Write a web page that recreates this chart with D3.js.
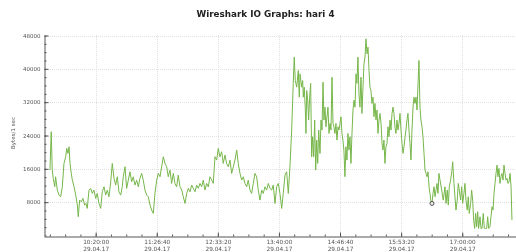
<!DOCTYPE html>
<html>
<head>
<meta charset="utf-8">
<script src="https://cdn.jsdelivr.net/npm/d3@7"></script>
<style>
  body { margin: 0; background: #fff; }
  svg { display: block; filter: blur(0.3px); }
</style>
</head>
<body>
<svg id="chart" width="516" height="252"></svg>
<script>
const title = "Wireshark IO Graphs: hari 4";
const yLabel = "Bytes/1 sec";
const dateLabel = "29.04.17";
const captureStart = "2017-04-29 09:00:00";
const viewMinutes = [23.6, 538.7];
const xTickLabels = ["10:20:00", "11:26:40", "12:33:20", "13:40:00", "14:46:40", "15:53:20", "17:00:00"];
const yTickValues = [8000, 16000, 24000, 32000, 40000, 48000];

// minutes after captureStart
const minutes = [
  30.1, 31.5, 32.6, 33.7, 35.3, 36.3, 38.1, 40.0, 41.8, 43.6,
  45.4, 47.3, 48.4, 49.8, 50.9, 52.0, 53.4, 54.5, 56.4, 58.2,
  60.0, 61.0, 62.5, 64.3, 66.1, 68.0, 69.4, 70.8, 72.7, 74.5,
  76.3, 78.1, 80.0, 81.7, 83.6, 85.5, 87.2, 89.1, 90.9, 92.7,
  94.5, 96.4, 98.1, 100.0, 101.8, 103.6, 105.4, 107.3, 109.0,
  110.1, 112.0, 113.8, 115.6, 117.4, 119.3, 121.0, 122.9, 124.7, 126.5,
  128.3, 130.2, 131.9, 133.8, 135.7, 137.4, 139.3, 141.1, 142.9, 144.7,
  146.6, 148.3, 150.2, 152.0, 153.8, 155.6, 157.5, 159.2, 161.1, 162.9,
  164.7, 166.5, 168.4, 170.1, 172.0, 173.9, 175.6, 177.5, 179.3, 181.1,
  182.9, 184.8, 186.5, 188.4, 190.2, 192.0, 193.8, 195.7, 197.4, 199.3,
  201.1, 202.9, 204.7, 206.6, 208.3, 210.2, 212.0, 213.8, 215.6, 217.5,
  219.2, 221.1, 222.9, 224.7, 226.6, 228.4, 230.2, 232.0, 233.9, 235.6,
  237.5, 239.3, 241.1, 242.9, 244.8, 246.5, 248.4, 250.2, 252.0, 253.8,
  255.7, 257.4, 259.3, 261.2, 262.9, 264.8, 266.6, 268.4, 270.2,
  272.1, 273.8, 275.7, 277.5, 279.3, 281.1, 283.0, 284.7, 286.6, 288.4,
  290.2, 292.0, 293.9, 295.6, 296.7, 297.8, 299.4, 301.1, 302.2, 303.0,
  304.8, 305.9, 306.6, 307.6, 308.7, 309.5, 310.3, 311.4, 312.4, 313.5,
  314.6, 315.7, 316.8, 317.9, 319.0, 320.1, 321.2, 322.3, 323.4, 324.8,
  325.9, 327.0, 328.1, 329.1, 330.2,
  331.3, 332.4, 333.5, 334.6, 335.7, 336.8, 337.9, 339.0, 340.0, 341.1,
  342.2, 343.3, 344.4, 345.5, 346.6, 347.7, 348.8, 349.8, 350.9, 352.0,
  353.1, 354.2, 355.3, 356.4, 357.5, 358.6, 359.7, 360.8, 361.9, 363.0,
  364.1, 365.1, 366.2, 367.3, 368.4, 369.5, 370.6, 371.7, 372.8, 373.9,
  375.0, 376.1, 377.2, 378.3, 379.3, 380.4, 381.5, 382.6, 383.7, 384.8,
  385.9, 387.0, 388.1, 389.2, 390.3, 391.4, 392.5, 393.5, 394.6, 395.7,
  396.8, 397.9, 399.0, 400.1, 401.2, 402.3, 403.4, 404.5, 405.5, 406.6,
  407.7, 408.8, 409.9, 411.0, 412.1, 413.2, 414.3, 415.4, 416.5, 417.6,
  418.6, 419.7, 420.8, 421.9, 423.0, 424.1, 425.2, 426.3, 427.4, 428.5,
  429.6, 430.7, 431.8, 432.8, 433.9, 435.0, 436.1, 437.2, 438.3, 439.4,
  440.5, 441.6, 442.7, 443.8, 444.8, 445.9, 447.0, 448.1, 449.2, 450.3,
  451.4, 452.5, 453.6, 454.6,
  457.6, 459.3, 461.2, 462.3, 463.7, 464.8, 465.9, 467.4, 468.8, 469.6,
  471.0, 472.1, 473.2, 474.6, 475.7, 476.8, 478.3, 479.4, 480.5, 481.9,
  483.0, 484.1, 485.5, 486.6, 487.7, 489.2, 490.3, 491.4, 492.5, 493.6,
  494.7, 495.8, 496.9, 497.9, 499.4, 500.5, 501.6, 503.0, 504.1, 505.2,
  506.7, 507.8, 508.9, 510.3, 511.4, 512.5, 513.6, 514.7, 515.8, 516.9,
  518.0, 519.0, 520.1, 521.2, 522.3, 523.4, 524.5, 525.6, 526.7, 527.8,
  528.9, 530.0, 531.1, 532.2, 533.3, 534.3
];

const bytesPerSec = [
  15700, 24900, 15700, 13700, 11700, 14100, 10900, 9700, 9300, 11700,
  17300, 18900, 20900, 19700, 21300, 17300, 14900, 13300, 11700, 9700,
  7300, 4500, 8500, 8100, 8900, 7300, 7700, 6500, 10900, 11300,
  10100, 10900, 8900, 10100, 7700, 6500, 10500, 11700, 9700, 10900,
  9300, 12900, 17300, 13700, 12100, 14100, 10500, 9700, 11700,
  14100, 16500, 11300, 13300, 15300, 12900, 14100, 12100, 13300, 11700,
  13700, 14900, 13300, 10900, 9700, 9300, 7300, 6100, 5300, 10100,
  13300, 14900, 14100, 16500, 18900, 17300, 16500, 14100, 15700, 12500,
  14900, 12500, 11700, 14500, 11700, 10900, 9300, 7700, 10100, 11300,
  10500, 12100, 11300, 10500, 12100, 11300, 12500, 11700, 13300, 10900,
  12500, 11700, 14100, 13300, 12500, 18900, 18100, 20900, 18900, 20100,
  17300, 19300, 17300, 16500, 18100, 14900, 16500, 18100, 20500, 17300,
  14900, 13300, 14100, 12500, 11700, 13300, 10900, 10100, 12500, 14900,
  14100, 10900, 8500, 10900, 10100, 11700, 10900, 12500, 11300,
  10900, 12100, 7700, 11700, 12500, 10100, 6500, 10100, 14500, 15300,
  10100, 16500, 25300, 36500, 42800, 37200, 35600, 39600, 33200, 38800,
  35600, 37200, 33200, 35600, 30800, 24500, 34800, 32500, 27700, 33200,
  36500, 18900, 23700, 18900, 27700, 15700, 22900, 17300, 25300, 19700,
  27700, 25300, 36800, 27700, 30800,
  26100, 28500, 30800, 24500, 26900, 25300, 38000, 26900, 26100, 24500,
  26900, 22900, 26100, 25300, 26900, 28500, 24500, 22900, 20500, 14100,
  21300, 18100, 24500, 20500, 23700, 17300, 24500, 30100, 32500, 30800,
  38800, 36500, 42800, 34100, 30800, 38000, 29300, 35600, 41200, 42800,
  47200, 43600, 45200, 39600, 35600, 34800, 31700, 33200, 28500, 31700,
  27700, 30100, 24500, 27700, 29300, 26900, 22100, 20500, 22900, 17300,
  21300, 22100, 26100, 23700, 27700, 25300, 29300, 30800, 29300, 26100,
  24500, 27700, 25300, 26900, 29300, 25300, 22100, 19700, 21300, 23700,
  25300, 27700, 29300, 25300, 22100, 18100, 25300, 30800, 33200, 31700,
  33200, 30100, 36500, 42000, 30800, 27700, 26100, 23700, 19700, 15700,
  14900, 14100, 15300, 11700, 10100, 8100, 7700, 10100, 11700, 9300,
  10900, 12500, 10100, 14900,
  10900, 8500, 11700, 7700, 10900, 7300, 11700, 13300, 15700, 17700,
  12500, 9300, 6100, 8500, 12500, 10900, 8500, 11700, 7700, 10100,
  12500, 8500, 6100, 9300, 5300, 7700, 10900, 8500, 3700, 1700,
  5300, 2100, 5700, 1700, 4500, 1700, 1700, 5300, 1700, 1700,
  1700, 4500, 1700, 2100, 4500, 6900, 6100, 10100, 12500, 14900,
  16900, 14100, 16100, 12500, 14100, 14900, 13300, 16900, 14900, 13300,
  13700, 12500, 12900, 14900, 11700, 3700
];

const markedMinute = 447.0;

const svg = d3.select("#chart");
const margin = { top: 35, right: 0, bottom: 16.5, left: 44 };
const width = 516, height = 252;

const parseClock = d3.timeParse("%Y-%m-%d %H:%M:%S");
const t0 = parseClock(captureStart);
const toDate = m => new Date(t0.getTime() + m * 60000);
const xTicks = xTickLabels.map(s => parseClock(captureStart.slice(0, 11) + s));

const data = minutes.map((m, i) => ({ t: toDate(m), v: bytesPerSec[i] }));

const x = d3.scaleTime()
  .domain(viewMinutes.map(toDate))
  .range([margin.left, width - margin.right]);

const y = d3.scaleLinear()
  .domain([0, 48000])
  .range([height - margin.bottom, margin.top + 0.5]);

// minor ticks: quarter steps between majors
const majorStep = xTicks[1] - xTicks[0];
const xMinor = d3.range(-4, 28).map(k => new Date(xTicks[0].getTime() + k * majorStep / 4))
  .filter(d => d >= x.domain()[0] && d <= x.domain()[1]);
const yMinor = d3.range(0, 48001, 2000);

// grid
const grid = svg.append("g")
  .attr("stroke", "#e0e0e0")
  .attr("stroke-dasharray", "1,1")
  .attr("stroke-width", 1);

grid.selectAll("line.h")
  .data(yTickValues)
  .join("line")
  .attr("class", "h")
  .attr("x1", margin.left)
  .attr("x2", width)
  .attr("y1", d => Math.round(y(d)) + 0.5)
  .attr("y2", d => Math.round(y(d)) + 0.5);

grid.selectAll("line.v")
  .data(xTicks)
  .join("line")
  .attr("class", "v")
  .attr("x1", d => Math.round(x(d)) + 0.5)
  .attr("x2", d => Math.round(x(d)) + 0.5)
  .attr("y1", margin.top)
  .attr("y2", height - margin.bottom);

// series
svg.append("path")
  .datum(data)
  .attr("fill", "none")
  .attr("stroke", "#76b64a")
  .attr("stroke-width", 1)
  .attr("stroke-linejoin", "round")
  .attr("d", d3.line().x(d => x(d.t)).y(d => y(d.v)));

const mk = data[minutes.indexOf(markedMinute)];
svg.append("circle")
  .attr("cx", x(mk.t))
  .attr("cy", y(mk.v))
  .attr("r", 2)
  .attr("fill", "#e8e8e8")
  .attr("stroke", "#444")
  .attr("stroke-width", 0.9);

// axes
const axisY = Math.round(y(0)) + 0.5;

const xAxis = g => g
  .attr("transform", `translate(0,${axisY})`)
  .call(d3.axisBottom(x).tickValues(xTicks).tickSizeInner(-4).tickSizeOuter(0).tickPadding(3)
    .tickFormat(d3.timeFormat("%H:%M:%S")));

const xMinorAxis = g => g
  .attr("transform", `translate(0,${axisY})`)
  .call(d3.axisBottom(x).tickValues(xMinor).tickSizeInner(-2).tickSizeOuter(0).tickFormat(""))
  .call(g => g.select(".domain").remove());

const yAxis = g => g
  .attr("transform", `translate(${margin.left + 0.5},0)`)
  .call(d3.axisLeft(y).tickValues(yTickValues).tickSizeInner(-4).tickSizeOuter(0).tickPadding(4)
    .tickFormat(d3.format("d")));

const yMinorAxis = g => g
  .attr("transform", `translate(${margin.left + 0.5},0)`)
  .call(d3.axisLeft(y).tickValues(yMinor).tickSizeInner(-2).tickSizeOuter(0).tickFormat(""))
  .call(g => g.select(".domain").remove());

svg.append("g").call(xMinorAxis);
svg.append("g").call(yMinorAxis);

const gx = svg.append("g").call(xAxis);
const gy = svg.append("g").call(yAxis);

svg.selectAll(".domain, .tick line").attr("stroke", "#555");

gx.selectAll(".tick text")
  .attr("fill", "#555")
  .style("font", "5.8px 'DejaVu Sans'")
  .each(function () {
    const t = d3.select(this);
    const label = t.text();
    t.text(null);
    t.append("tspan").attr("x", 0).attr("dy", "0.71em").text(label);
    t.append("tspan").attr("x", 0).attr("dy", "1.3em").text(dateLabel);
  });

gy.selectAll(".tick text")
  .attr("fill", "#555")
  .style("font", "5.5px 'DejaVu Sans'");

// title and axis label
svg.append("text")
  .attr("x", 265.5)
  .attr("y", 16.5)
  .attr("text-anchor", "middle")
  .attr("fill", "#222")
  .style("font", "bold 8.8px 'DejaVu Sans'")
  .text(title);

svg.append("text")
  .attr("transform", `translate(15,133) rotate(-90)`)
  .attr("text-anchor", "middle")
  .attr("fill", "#555")
  .style("font", "5.5px 'DejaVu Sans'")
  .text(yLabel);
</script>
</body>
</html>
